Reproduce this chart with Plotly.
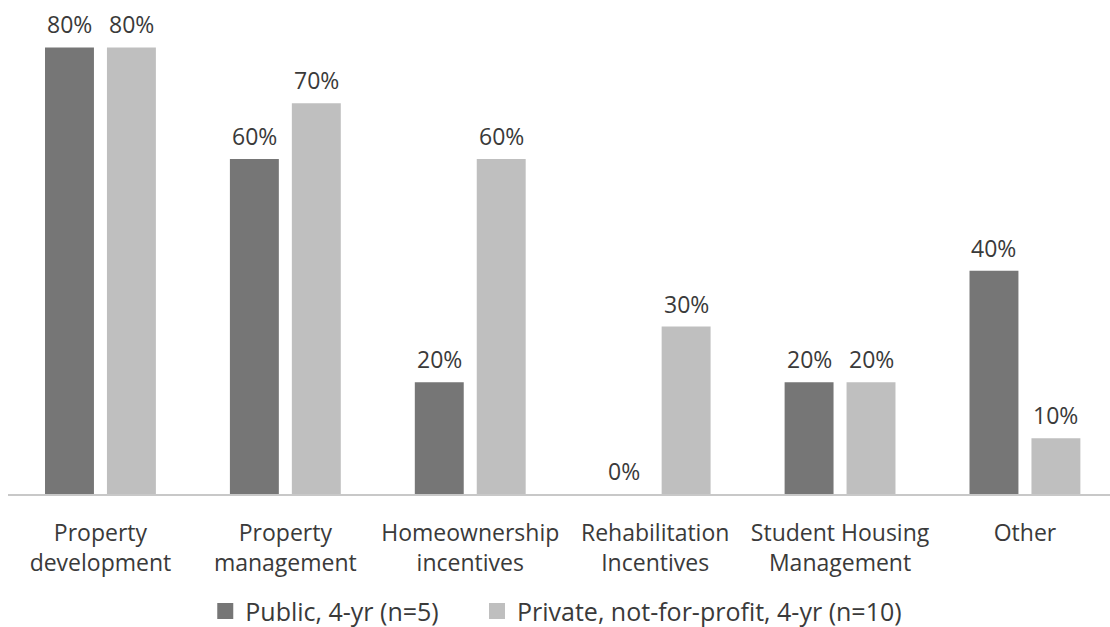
import plotly.graph_objects as go

categories = [
    "Property<br>development",
    "Property<br>management",
    "Homeownership<br>incentives",
    "Rehabilitation<br>Incentives",
    "Student Housing<br>Management",
    "Other",
]
public_vals = [80, 60, 20, 0, 20, 40]
private_vals = [80, 70, 60, 30, 20, 10]
series_names = ["Public, 4-yr (n=5)", "Private, not-for-profit, 4-yr (n=10)"]
series_colors = ["#767676", "#bfbfbf"]

FONT = "Open Sans"
TEXT_COLOR = "#3a3a3a"
SLOT_HALF = 31  # half the pixel width of one bar slot within a group

fig = go.Figure()
for name, vals, color, leg in zip(series_names, [public_vals, private_vals],
                                  series_colors, ["legend", "legend2"]):
    fig.add_trace(go.Bar(
        x=categories,
        y=vals,
        name=name,
        marker=dict(color=color, line=dict(width=0)),
        showlegend=False,
        cliponaxis=False,
    ))
    # larger square swatches for the legend
    fig.add_trace(go.Scatter(
        x=[None],
        y=[None],
        mode="markers",
        name=name,
        marker=dict(symbol="square", size=16, color=color),
        showlegend=True,
        legend=leg,
    ))

# percentage labels above each bar
for vals, shift in [(public_vals, -SLOT_HALF), (private_vals, SLOT_HALF)]:
    for i, v in enumerate(vals):
        fig.add_annotation(
            x=i,
            y=v,
            xref="x",
            yref="y",
            text=f"{v}%",
            showarrow=False,
            xshift=shift,
            yshift=23,
            yanchor="middle",
            font=dict(family=FONT, size=23, color=TEXT_COLOR),
        )

legend_style = dict(
    orientation="h",
    xanchor="left",
    y=-0.242,
    yanchor="middle",
    font=dict(family=FONT, size=25, color=TEXT_COLOR),
    itemwidth=30,
    bgcolor="rgba(0,0,0,0)",
)

fig.update_layout(
    width=1110,
    height=627,
    margin=dict(l=8, r=0, t=10, b=133, autoexpand=False),
    paper_bgcolor="white",
    plot_bgcolor="white",
    barmode="group",
    bargap=0.33,
    bargroupgap=0.21,
    font=dict(family=FONT, size=23, color=TEXT_COLOR),
    showlegend=True,
    legend=dict(x=0.179, **legend_style),
    legend2=dict(x=0.4256, **legend_style),
)
fig.update_xaxes(
    type="category",
    range=[-0.5, 5.46],
    showline=True,
    linecolor="#c8c8c8",
    linewidth=2,
    showgrid=False,
    ticks="",
    ticklabelstandoff=17,
    automargin=False,
    tickfont=dict(family=FONT, size=23, color=TEXT_COLOR),
    fixedrange=True,
)
fig.update_yaxes(
    range=[0, 86.7],
    visible=False,
    showgrid=False,
    zeroline=False,
    automargin=False,
    fixedrange=True,
)

fig.write_html("out.html")
